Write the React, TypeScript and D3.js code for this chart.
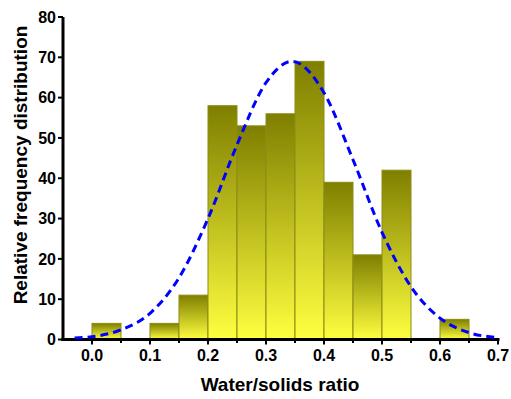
import { useEffect, useRef } from 'react'
import * as d3 from 'd3'

// histogram bins (lower edge of each 0.05-wide bin) and counts
const binStarts = [0.0, 0.1, 0.15, 0.2, 0.25, 0.3, 0.35, 0.4, 0.45, 0.5, 0.6]
const binCounts = [4, 4, 11, 58, 53, 56, 69, 39, 21, 42, 5]
const binWidth = 0.05

// fitted distribution curve
const curveX = [-0.03, 0.0, 0.05, 0.1, 0.15, 0.2, 0.25, 0.3, 0.345, 0.4, 0.45, 0.5, 0.55, 0.6, 0.65, 0.7]
const curveY = [0.4, 0.7, 2.4, 6.5, 15.3, 30, 48.3, 63.7, 69, 61.2, 44.6, 26.6, 13.1, 5.3, 1.7, 0.5]

const xTicks = [0.0, 0.1, 0.2, 0.3, 0.4, 0.5, 0.6, 0.7]
const xMinorTicks = [0.05, 0.15, 0.25, 0.35, 0.45, 0.55, 0.65]
const yTicks = [0, 10, 20, 30, 40, 50, 60, 70, 80]

export default function App() {
  const svgRef = useRef<SVGSVGElement>(null)

  useEffect(() => {
    if (!svgRef.current) return
    const svg = d3.select(svgRef.current)
    svg.selectAll('*').remove()

    const left = 63
    const right = 498
    const top = 17
    const bottom = 339.5

    const x = d3.scaleLinear().domain([-0.05, 0.7]).range([left, right])
    const y = d3.scaleLinear().domain([0, 80]).range([bottom, top])

    const defs = svg.append('defs')
    const grad = defs.append('linearGradient')
      .attr('id', 'barGrad')
      .attr('x1', 0).attr('y1', 0).attr('x2', 0).attr('y2', 1)
    grad.append('stop').attr('offset', '0%').attr('stop-color', '#7f7f00')
    grad.append('stop').attr('offset', '100%').attr('stop-color', '#ffff40')

    // bars
    const bars = binStarts.map((s, i) => ({ s, c: binCounts[i] }))
    svg.append('g')
      .selectAll('rect')
      .data(bars)
      .enter()
      .append('rect')
      .attr('x', d => x(d.s))
      .attr('y', d => y(d.c))
      .attr('width', d => x(d.s + binWidth) - x(d.s))
      .attr('height', d => y(0) - y(d.c))
      .attr('fill', 'url(#barGrad)')
      .attr('stroke', '#8c8c14')
      .attr('stroke-width', 1)

    // axes
    const font = '"Liberation Sans", Arial, sans-serif'
    const axisG = svg.append('g')
    axisG.append('line')
      .attr('x1', left).attr('x2', left)
      .attr('y1', top).attr('y2', bottom + 1.5)
      .attr('stroke', '#000').attr('stroke-width', 3)
    axisG.append('line')
      .attr('x1', left - 1.5).attr('x2', right + 1.5)
      .attr('y1', bottom).attr('y2', bottom)
      .attr('stroke', '#000').attr('stroke-width', 3)

    yTicks.forEach(t => {
      axisG.append('line')
        .attr('x1', left - 5).attr('x2', left)
        .attr('y1', y(t)).attr('y2', y(t))
        .attr('stroke', '#000').attr('stroke-width', 2)
      axisG.append('text')
        .attr('x', left - 7)
        .attr('y', y(t))
        .attr('dy', '0.36em')
        .attr('text-anchor', 'end')
        .style('font-family', font)
        .style('font-weight', 'bold')
        .style('font-size', '16px')
        .text(t)
    })

    xTicks.forEach(t => {
      axisG.append('line')
        .attr('x1', x(t)).attr('x2', x(t))
        .attr('y1', bottom).attr('y2', bottom + 5)
        .attr('stroke', '#000').attr('stroke-width', 2)
      axisG.append('text')
        .attr('x', x(t))
        .attr('y', bottom + 21)
        .attr('text-anchor', 'middle')
        .style('font-family', font)
        .style('font-weight', 'bold')
        .style('font-size', '16px')
        .text(t.toFixed(1))
    })
    xMinorTicks.forEach(t => {
      axisG.append('line')
        .attr('x1', x(t)).attr('x2', x(t))
        .attr('y1', bottom).attr('y2', bottom + 3.5)
        .attr('stroke', '#000').attr('stroke-width', 2)
    })

    // fitted curve
    const line = d3.line<number>()
      .x((d, i) => x(curveX[i]))
      .y(d => y(d))
      .curve(d3.curveMonotoneX)
    svg.append('path')
      .datum(curveY)
      .attr('d', line)
      .attr('fill', 'none')
      .attr('stroke', '#0000ff')
      .attr('stroke-width', 3)
      .attr('stroke-dasharray', '8,5')

    // axis titles
    svg.append('text')
      .attr('x', 280)
      .attr('y', 391)
      .attr('text-anchor', 'middle')
      .style('font-family', font)
      .style('font-weight', 'bold')
      .style('font-size', '19px')
      .text('Water/solids ratio')

    svg.append('text')
      .attr('transform', `translate(27,165) rotate(-90)`)
      .attr('text-anchor', 'middle')
      .style('font-family', font)
      .style('font-weight', 'bold')
      .style('font-size', '19px')
      .text('Relative frequency distribution')
  }, [])

  return (
    <svg
      ref={svgRef}
      width={511}
      height={399}
      style={{ position: 'absolute', left: 0, top: 0, background: '#fff' }}
    />
  )
}
